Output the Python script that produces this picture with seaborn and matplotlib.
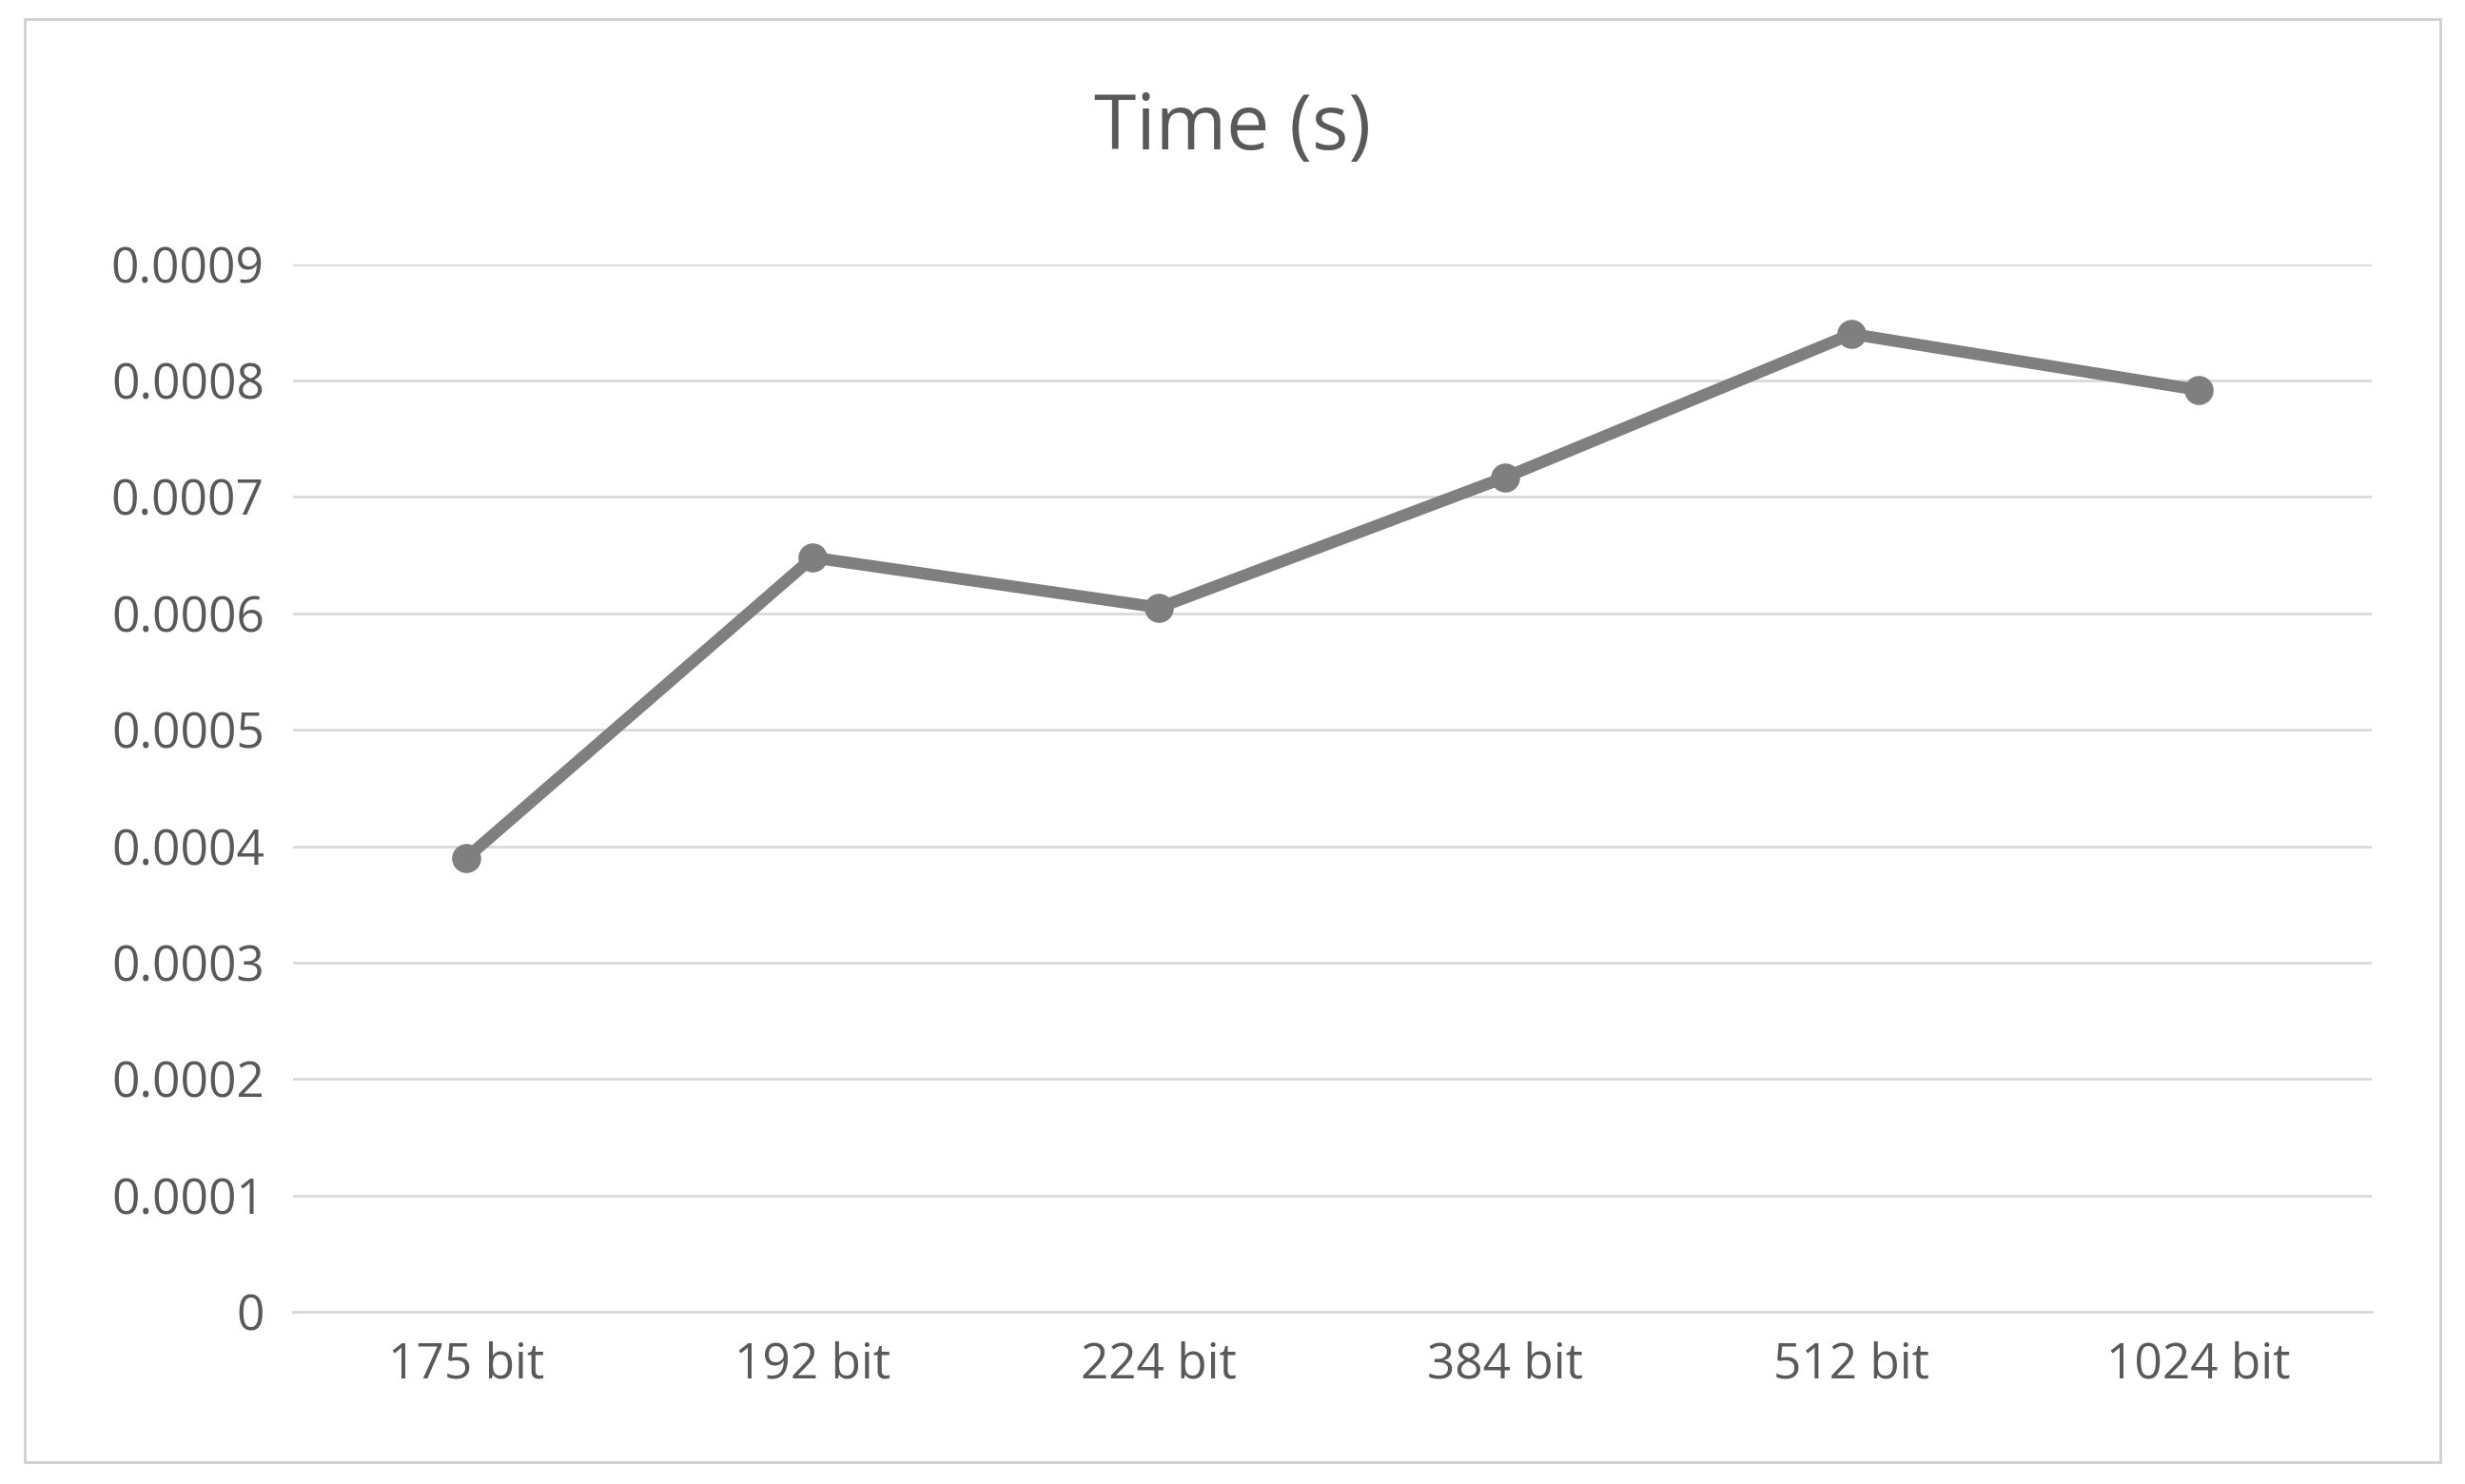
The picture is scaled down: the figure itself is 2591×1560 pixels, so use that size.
import matplotlib
matplotlib.use("Agg")
import matplotlib.pyplot as plt
import seaborn as sns
import pandas as pd
from matplotlib.patches import Rectangle

categories = ["175 bit", "192 bit", "224 bit", "384 bit", "512 bit", "1024 bit"]
times = [0.00039, 0.000648, 0.000605, 0.000717, 0.000840, 0.000792]
yticks = [0, 0.0001, 0.0002, 0.0003, 0.0004, 0.0005, 0.0006, 0.0007, 0.0008, 0.0009]
ytick_labels = ["0", "0.0001", "0.0002", "0.0003", "0.0004", "0.0005", "0.0006", "0.0007", "0.0008", "0.0009"]

sns.set_theme(style="white")
plt.rcParams['font.family'] = ['Open Sans', 'DejaVu Sans']
df = pd.DataFrame({"cat": categories, "t": times})

fig = plt.figure(figsize=(25.91, 15.6), dpi=100)
fig.patches.append(Rectangle((0.01, 0.015), 0.98, 0.972, transform=fig.transFigure,
                             fill=False, edgecolor="#d0d0d0", linewidth=2))
ax = fig.add_axes([0.119, 0.116, 0.843, 0.706])
sns.lineplot(data=df, x="cat", y="t", ax=ax, color="#7f7f7f", linewidth=9,
             marker="o", markersize=22, markeredgewidth=0, sort=False)
ax.set_ylim(0, 0.0009)
ax.set_xlim(-0.5, 5.5)
ax.set_yticks(yticks)
ax.set_yticklabels(ytick_labels)
ax.yaxis.grid(True, color="#d9d9d9", linewidth=2)
ax.set_axisbelow(True)
for s in ["top", "right", "left"]:
    ax.spines[s].set_visible(False)
ax.spines["bottom"].set_color("#d9d9d9")
ax.spines["bottom"].set_linewidth(2)
ax.tick_params(axis="both", labelsize=37, colors="#595959", length=0, pad=22)
ax.set_xlabel("")
ax.set_ylabel("")
fig.text(0.5, 0.913, "Time (s)", ha="center", va="center", fontsize=58, color="#595959")
fig.savefig("out.png", dpi=100)
